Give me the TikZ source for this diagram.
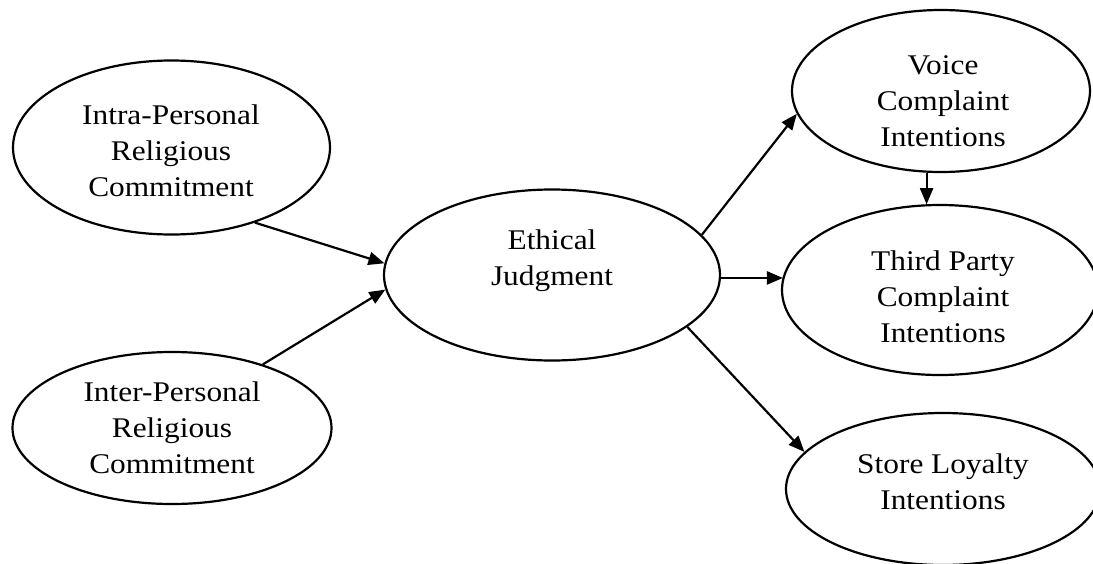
\documentclass[tikz,border=0pt]{standalone}
\usepackage{fontspec}
\setmainfont{Liberation Serif}[FakeStretch=1.1]
\usetikzlibrary{shapes.geometric,arrows.meta}
\tikzset{
  oval/.style={draw=black, line width=2.2pt, ellipse, inner sep=0pt},
  lbl/.style={align=center, font=\fontsize{28.5}{36}\selectfont, inner sep=0pt},
  link/.style={draw=black, line width=2.2pt, -{Triangle[length=16pt,width=13pt]}}
}
\begin{document}
\begin{tikzpicture}[x=1pt,y=-1pt]
\useasboundingbox (0,0) rectangle (1093,563);
% ellipses
\node[oval, minimum width=317pt, minimum height=174pt] (intra) at (171.5,147.5) {};
\node[oval, minimum width=319pt, minimum height=152pt] (inter) at (172,428) {};
\node[oval, minimum width=336pt, minimum height=171pt] (eth) at (552,275) {};
\node[oval, minimum width=298pt, minimum height=162pt] (voice) at (941,91) {};
\node[oval, minimum width=316pt, minimum height=170pt] (third) at (940,290) {};
\node[oval, minimum width=314pt, minimum height=152pt] (store) at (943,489) {};
% texts
\node[lbl] (tintra) at (171,151) {Intra-Personal\\Religious\\Commitment};
\node[lbl] (tinter) at (172,428) {Inter-Personal\\Religious\\Commitment};
\node[lbl] (teth) at (552,261) {Ethical\\Judgment};
\node[lbl] (tvoice) at (943,101) {Voice\\Complaint\\Intentions};
\node[lbl] (tthird) at (943,297) {Third Party\\Complaint\\Intentions};
\node[lbl] (tstore) at (943,482) {Store Loyalty\\Intentions};
% connectors
\draw[link] (intra.-42.4) -- (eth.176.6);
\draw[link] (inter.35) -- (eth.-175.6);
\draw[link] (eth.15.8) -- (voice.-171);
\draw[link] (eth.-1) -- (third.175.6 |- eth.-1);
\draw[link] (eth.-21.1) -- (store.165.7);
\draw[link] (voice.-100) -- (voice.-100 |- third.99);
\end{tikzpicture}
\end{document}
